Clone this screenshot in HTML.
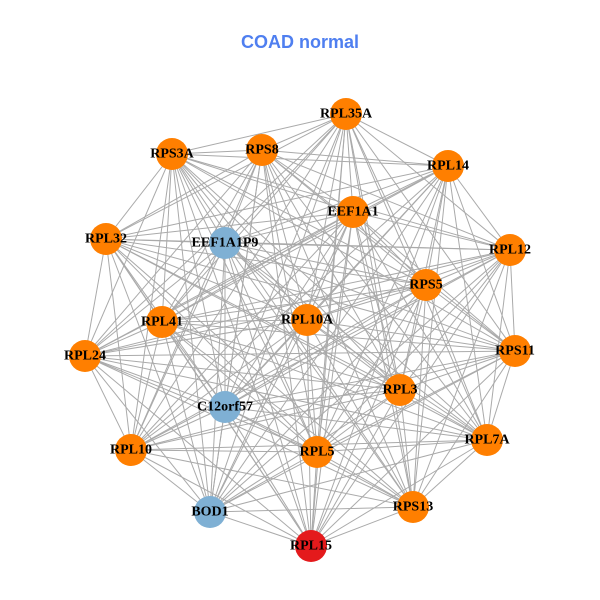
<!DOCTYPE html>
<html><head><meta charset="utf-8"><style>
body{margin:0;background:#fff;width:600px;height:600px;overflow:hidden}
svg{display:block}
text.l{font-family:"Liberation Serif",serif;font-weight:bold;font-size:14px;fill:#000;text-anchor:middle;dominant-baseline:central}
</style></head><body>
<svg id="s" width="600" height="600" viewBox="0 0 600 600">
<text x="300" y="42" text-anchor="middle" dominant-baseline="central" font-family="Liberation Sans,sans-serif" font-weight="bold" font-size="18" fill="#4f7ff0">COAD normal</text>
<g id="e" stroke="#aaaaaa" stroke-width="1"></g>
<g id="n"></g>
<g>
<text class="l" x="346" y="114">RPL35A</text>
<text class="l" x="262" y="150">RPS8</text>
<text class="l" x="172" y="154">RPS3A</text>
<text class="l" x="448" y="166">RPL14</text>
<text class="l" x="353" y="212">EEF1A1</text>
<text class="l" x="106" y="239">RPL32</text>
<text class="l" x="225" y="243">EEF1A1P9</text>
<text class="l" x="510" y="250">RPL12</text>
<text class="l" x="426" y="285">RPS5</text>
<text class="l" x="162" y="322">RPL41</text>
<text class="l" x="307" y="320">RPL10A</text>
<text class="l" x="85" y="356">RPL24</text>
<text class="l" x="515" y="351">RPS11</text>
<text class="l" x="400" y="390">RPL3</text>
<text class="l" x="225" y="407">C12orf57</text>
<text class="l" x="487" y="440">RPL7A</text>
<text class="l" x="131" y="450">RPL10</text>
<text class="l" x="317" y="452">RPL5</text>
<text class="l" x="413" y="507">RPS13</text>
<text class="l" x="210" y="512">BOD1</text>
<text class="l" x="311" y="546">RPL15</text>
</g>
</svg>
<script>
var N=[[346,114,0],[262,150,0],[172,154,0],[448,166,0],[353,212,0],[106,239,0],[225,243,1],[510,250,0],[426,285,0],[162,322,0],[307,320,0],[85,356,0],[515,351,0],[400,390,0],[225,407,1],[487,440,0],[131,450,0],[317,452,0],[413,507,0],[210,512,1],[311,546,2]];
var ns="http://www.w3.org/2000/svg",e=document.getElementById("e"),g=document.getElementById("n");
for(var i=0;i<N.length;i++)for(var j=i+1;j<N.length;j++){var l=document.createElementNS(ns,"line");l.setAttribute("x1",N[i][0]);l.setAttribute("y1",N[i][1]);l.setAttribute("x2",N[j][0]);l.setAttribute("y2",N[j][1]);e.appendChild(l);}
var C=["#ff7f00","#7fb0d4","#e41a1c"];
N.forEach(function(p){var c=document.createElementNS(ns,"circle");c.setAttribute("cx",p[0]);c.setAttribute("cy",p[1]);c.setAttribute("r",16);c.setAttribute("fill",C[p[2]]);g.appendChild(c);});
</script>
</body></html>
